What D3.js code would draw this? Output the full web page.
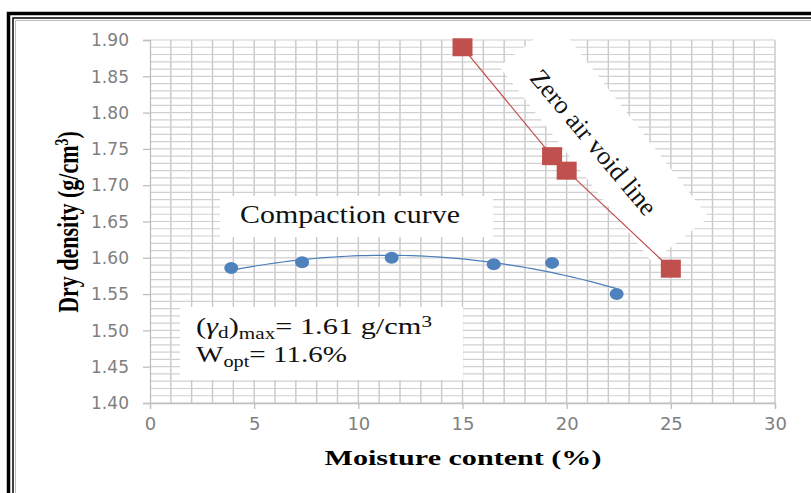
<!DOCTYPE html>
<html lang="en">
<head>
    <meta charset="UTF-8">
    <title>Compaction curve</title>
    <script src="https://d3js.org/d3.v7.min.js"></script>
    <style>
        body { margin: 0; background: #fff; }
        .axis-title { font-family: "Liberation Serif", serif; font-weight: bold; font-size: 22px; fill: #000; }
        .note { font-family: "Liberation Serif", serif; fill: #111; }
    </style>
</head>
<body>
    <svg id="chart"></svg>

    <script>
        // compaction test points (moisture %, dry density g/cm3)
        var moisture = [3.9, 7.3, 11.6, 16.5, 19.3, 22.4];
        var density = [1.586, 1.594, 1.600, 1.591, 1.593, 1.550];

        // zero air void line points
        var zavMoisture = [15, 19.3, 20, 25];
        var zavDensity = [1.89, 1.74, 1.72, 1.585];

        // axis ticks
        var xTicks = [0, 5, 10, 15, 20, 25, 30];
        var yTicks = [1.40, 1.45, 1.50, 1.55, 1.60, 1.65, 1.70, 1.75, 1.80, 1.85, 1.90];

        var width = 811, height = 493;

        var svg = d3.select("#chart")
            .attr("width", width)
            .attr("height", height);

        var x = d3.scaleLinear().domain([0, 30]).range([150, 775]);
        var y = d3.scaleLinear().domain([1.40, 1.90]).range([403, 40]);

        svg.append("clipPath").attr("id", "plot")
           .append("rect").attr("x", x(0)).attr("y", y(1.90) - 2)
           .attr("width", x(30) - x(0) + 2).attr("height", y(1.40) - y(1.90) + 2);

        // double frame round the chart
        svg.append("path").attr("d", "M8.5,493V13.5H811").attr("fill", "none")
           .attr("stroke", "#000").attr("stroke-width", 3.5);
        svg.append("path").attr("d", "M13,493V18H811").attr("fill", "none")
           .attr("stroke", "#000").attr("stroke-width", 1.5);
        svg.append("path").attr("d", "M15.5,493V20.5H811").attr("fill", "none")
           .attr("stroke", "#bbb").attr("stroke-width", 1);

        // grid: one line per 1 % and per 0.01 g/cm3
        var grid = svg.append("g");
        grid.selectAll(".gx")
            .data(d3.range(1, 31))
            .enter().append("line")
            .attr("x1", function(d) { return x(d); })
            .attr("x2", function(d) { return x(d); })
            .attr("y1", y(1.40)).attr("y2", y(1.90))
            .attr("stroke", "#c8c8c8").attr("stroke-width", 1.4);
        grid.selectAll(".gy")
            .data(d3.range(0, 51).map(function(i) { return 1.40 + i * 0.01; }))
            .enter().append("line")
            .attr("x1", x(0)).attr("x2", x(30))
            .attr("y1", function(d) { return y(d); })
            .attr("y2", function(d) { return y(d); })
            .attr("stroke", "#d0d0d0").attr("stroke-width", 1.2);

        // axes
        var xAxis = svg.append("g")
            .attr("transform", "translate(0," + y(1.40) + ")")
            .call(d3.axisBottom(x).tickValues(xTicks).tickSize(6).tickPadding(7));
        var yAxis = svg.append("g")
            .attr("transform", "translate(" + x(0) + ",0)")
            .call(d3.axisLeft(y).tickValues(yTicks).tickSize(7).tickPadding(14)
                  .tickFormat(d3.format(".2f")));
        [xAxis, yAxis].forEach(function(a) {
            a.attr("font-family", "'DejaVu Sans', sans-serif").attr("font-size", 18);
            a.select(".domain").attr("stroke", "#bfbfbf").attr("stroke-width", 1.3);
            a.selectAll(".tick line").attr("stroke", "#bfbfbf").attr("stroke-width", 1.3);
            a.selectAll(".tick text").attr("fill", "#7f7f7f");
        });
        xAxis.selectAll(".tick text").attr("dy", "0.8em");
        yAxis.selectAll(".tick text").attr("textLength", 38).attr("lengthAdjust", "spacingAndGlyphs");

        // white note boxes covering the grid
        svg.append("rect").attr("x", 220).attr("y", 196).attr("width", 273).attr("height", 41).attr("fill", "#fff");
        svg.append("rect").attr("x", 180).attr("y", 307).attr("width", 283).attr("height", 73).attr("fill", "#fff");
        svg.append("g").attr("clip-path", "url(#plot)")
           .append("rect").attr("x", -124).attr("y", -36).attr("width", 248).attr("height", 72)
           .attr("fill", "#fff").attr("transform", "translate(604,142) rotate(52)");

        // polynomial (2nd order) trendline through the compaction points
        function quadFit(xs, ys) {
            var n = xs.length, s = [0, 0, 0, 0, 0], t = [0, 0, 0];
            for (var i = 0; i < n; i++) {
                var p = 1;
                for (var k = 0; k < 5; k++) { s[k] += p; if (k < 3) t[k] += p * ys[i]; p *= xs[i]; }
            }
            var m = [[s[0], s[1], s[2], t[0]], [s[1], s[2], s[3], t[1]], [s[2], s[3], s[4], t[2]]];
            for (var c = 0; c < 3; c++) {
                for (var r = c + 1; r < 3; r++) {
                    var f = m[r][c] / m[c][c];
                    for (var j = c; j < 4; j++) m[r][j] -= f * m[c][j];
                }
            }
            var b = [0, 0, 0];
            for (var r2 = 2; r2 >= 0; r2--) {
                var v = m[r2][3];
                for (var j2 = r2 + 1; j2 < 3; j2++) v -= m[r2][j2] * b[j2];
                b[r2] = v / m[r2][r2];
            }
            return function(v) { return b[0] + b[1] * v + b[2] * v * v; };
        }
        var fit = quadFit(moisture, density);
        var xMin = d3.min(moisture), xMax = d3.max(moisture);
        var trend = d3.range(0, 61).map(function(i) { return xMin + (xMax - xMin) * i / 60; });
        svg.append("path")
            .datum(trend)
            .attr("fill", "none").attr("stroke", "#4a7ebb").attr("stroke-width", 1.2)
            .attr("d", d3.line().x(function(d) { return x(d); }).y(function(d) { return y(fit(d)); }));

        svg.selectAll(".pt")
            .data(moisture)
            .enter().append("ellipse")
            .attr("cx", function(d) { return x(d); })
            .attr("cy", function(d, i) { return y(density[i]); })
            .attr("rx", 7).attr("ry", 6)
            .attr("fill", "#4f81bd");

        // zero air void line
        var zav = zavMoisture.map(function(d, i) { return [d, zavDensity[i]]; });
        svg.append("path")
            .datum(zav)
            .attr("fill", "none").attr("stroke", "#c0504d").attr("stroke-width", 1.2)
            .attr("d", d3.line().x(function(d) { return x(d[0]); }).y(function(d) { return y(d[1]); }));
        svg.selectAll(".sq")
            .data(zav)
            .enter().append("rect")
            .attr("x", function(d) { return x(d[0]) - 10; })
            .attr("y", function(d) { return y(d[1]) - 9; })
            .attr("width", 20).attr("height", 18)
            .attr("fill", "#c0504d");

        // axis titles
        svg.append("text").attr("class", "axis-title")
            .attr("x", 463).attr("y", 465).attr("text-anchor", "middle")
            .attr("textLength", 277).attr("lengthAdjust", "spacingAndGlyphs")
            .text("Moisture content (%)");
        var yt = svg.append("text").attr("class", "axis-title")
            .attr("text-anchor", "middle")
            .attr("transform", "translate(78,222) scale(1.3,1) rotate(-90)");
        yt.append("tspan").text("Dry density (g/cm");
        yt.append("tspan").attr("dy", -8).attr("font-size", 14).text("3");
        yt.append("tspan").attr("dy", 8).text(")");

        // notes
        svg.append("text").attr("class", "note")
            .attr("x", 240).attr("y", 223).attr("font-size", 26)
            .attr("textLength", 220).attr("lengthAdjust", "spacingAndGlyphs")
            .text("Compaction curve");

        var f1 = svg.append("text").attr("class", "note").attr("x", 196).attr("y", 334).attr("font-size", 23)
            .attr("textLength", 236).attr("lengthAdjust", "spacingAndGlyphs");
        f1.append("tspan").text("(");
        f1.append("tspan").attr("font-style", "italic").text("γ");
        f1.append("tspan").attr("font-size", 16).attr("dy", 4).text("d");
        f1.append("tspan").attr("dy", -4).text(")");
        f1.append("tspan").attr("font-size", 16).attr("dy", 5).text("max");
        f1.append("tspan").attr("dy", -5).text("=  1.61  g/cm");
        f1.append("tspan").attr("font-size", 16).attr("dy", -7).text("3");

        var f2 = svg.append("text").attr("class", "note").attr("x", 196).attr("y", 362).attr("font-size", 23)
            .attr("textLength", 151).attr("lengthAdjust", "spacingAndGlyphs");
        f2.append("tspan").text("W");
        f2.append("tspan").attr("font-size", 16).attr("dy", 5).text("opt");
        f2.append("tspan").attr("dy", -5).text("= 11.6%");

        svg.append("text").attr("class", "note")
            .attr("font-size", 26).attr("text-anchor", "middle")
            .attr("transform", "translate(594,142) rotate(50)")
            .attr("dy", "0.35em")
            .text("Zero air void line");
    </script>
</body>
</html>
